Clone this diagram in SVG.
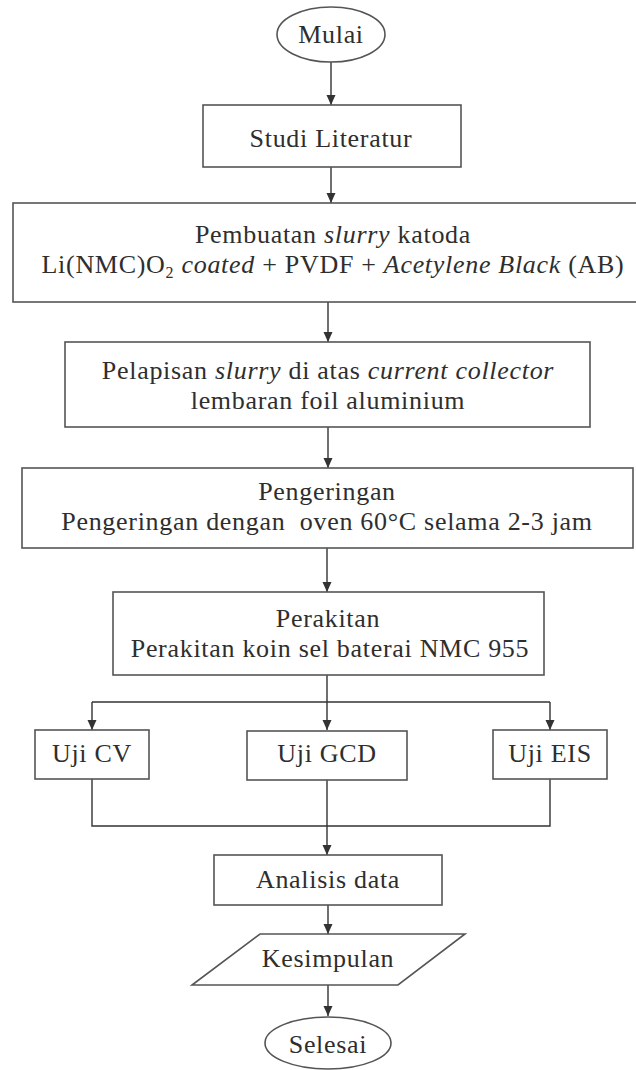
<svg xmlns="http://www.w3.org/2000/svg" width="636" height="1070" viewBox="0 0 636 1070">
<style>
.shape{fill:#fff;stroke:#555;stroke-width:1.6}
.t{font-family:"Liberation Serif","Times New Roman",serif;font-size:26px;fill:#2e2e2e;letter-spacing:0.7px;text-anchor:middle;white-space:pre}
.i{font-style:italic}
.c{fill:none;stroke:#333;stroke-width:1.4}
</style>
<defs>
<marker id="ah" markerUnits="userSpaceOnUse" markerWidth="11" markerHeight="10" refX="10" refY="4.5" orient="auto">
<path d="M0,0 L10,4.5 L0,9 z" fill="#333"/>
</marker>
</defs>
<rect width="636" height="1070" fill="#fff"/>
<g id="connectors">
<line class="c" x1="331" y1="62" x2="331" y2="105" marker-end="url(#ah)"/>
<line class="c" x1="331" y1="167" x2="331" y2="203" marker-end="url(#ah)"/>
<line class="c" x1="328" y1="302" x2="328" y2="342" marker-end="url(#ah)"/>
<line class="c" x1="328" y1="427" x2="328" y2="468" marker-end="url(#ah)"/>
<line class="c" x1="327" y1="548" x2="327" y2="592" marker-end="url(#ah)"/>
<line class="c" x1="327" y1="675" x2="327" y2="730" marker-end="url(#ah)"/>
<polyline class="c" points="92,702 550,702"/>
<line class="c" x1="92" y1="702" x2="92" y2="730" marker-end="url(#ah)"/>
<line class="c" x1="550" y1="702" x2="550" y2="730" marker-end="url(#ah)"/>
<polyline class="c" points="92,779 92,826 550,826 550,779"/>
<line class="c" x1="327" y1="780" x2="327" y2="855" marker-end="url(#ah)"/>
<line class="c" x1="328" y1="905" x2="328" y2="934" marker-end="url(#ah)"/>
<line class="c" x1="328" y1="985" x2="328" y2="1016" marker-end="url(#ah)"/>
</g>
<g id="mulai">
<ellipse class="shape" cx="331" cy="34.5" rx="54" ry="27.5"/>
<text class="t" x="331" y="43">Mulai</text>
</g>
<g id="studi">
<rect class="shape" x="203" y="105" width="258" height="62"/>
<text class="t" x="331" y="147">Studi Literatur</text>
</g>
<g id="pembuatan">
<rect class="shape" x="13" y="203" width="640" height="99"/>
<text class="t" x="333" y="243">Pembuatan <tspan class="i">slurry</tspan> katoda</text>
<text class="t" x="333" y="273">Li(NMC)O<tspan font-size="16" dy="5">2</tspan><tspan dy="-5"> </tspan><tspan class="i">coated</tspan> + PVDF + <tspan class="i">Acetylene Black</tspan> (AB)</text>
</g>
<g id="pelapisan">
<rect class="shape" x="65" y="342" width="525" height="85"/>
<text class="t" x="328" y="379">Pelapisan <tspan class="i">slurry</tspan> di atas <tspan class="i">current collector</tspan></text>
<text class="t" x="328" y="409">lembaran foil aluminium</text>
</g>
<g id="pengeringan">
<rect class="shape" x="22" y="468" width="611" height="80"/>
<text class="t" x="327" y="500">Pengeringan</text>
<text class="t" x="327" y="530">Pengeringan dengan  oven 60°C selama 2-3 jam</text>
</g>
<g id="perakitan">
<rect class="shape" x="113" y="592" width="431" height="83"/>
<text class="t" x="328" y="627">Perakitan</text>
<text class="t" x="330" y="657">Perakitan koin sel baterai NMC 955</text>
</g>
<g id="ujicv">
<rect class="shape" x="35" y="730" width="114" height="49"/>
<text class="t" x="92" y="762">Uji CV</text>
</g>
<g id="ujigcd">
<rect class="shape" x="247" y="731" width="160" height="49"/>
<text class="t" x="327" y="762">Uji GCD</text>
</g>
<g id="ujieis">
<rect class="shape" x="493" y="730" width="114" height="49"/>
<text class="t" x="550" y="762">Uji EIS</text>
</g>
<g id="analisis">
<rect class="shape" x="214" y="855" width="228" height="50"/>
<text class="t" x="328" y="888">Analisis data</text>
</g>
<g id="kesimpulan">
<polygon class="shape" points="260,934 465,934 398,985 192,985"/>
<text class="t" x="328" y="967">Kesimpulan</text>
</g>
<g id="selesai">
<ellipse class="shape" cx="328" cy="1043" rx="63" ry="26"/>
<text class="t" x="328" y="1053">Selesai</text>
</g>
</svg>
